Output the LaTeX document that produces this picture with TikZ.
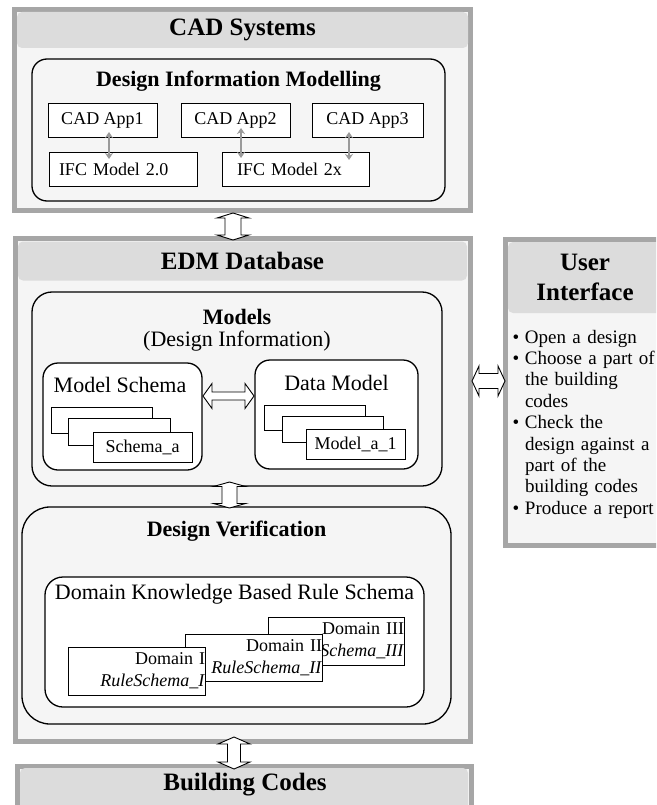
\documentclass[tikz,border=0pt]{standalone}
\usepackage{fontspec}
\setmainfont{Liberation Serif}
\usetikzlibrary{calc,arrows.meta}

\definecolor{frame}{HTML}{A6A6A6}
\definecolor{panel}{HTML}{F5F5F5}
\definecolor{band}{HTML}{DCDCDC}
\definecolor{link}{HTML}{9A9A9A}

\newcommand\fs[2]{\fontsize{#1}{#2}\selectfont}
\newcommand\bul{\makebox[12.5pt][l]{\textbullet}}
\newcommand\ind{\hspace*{12.5pt}}

\tikzset{
  every node/.style={outer sep=0pt},
  wh/.style 2 args={minimum width=#1pt, minimum height=#2pt},
  panelbox/.style={draw=frame, line width=5pt, fill=panel, inner sep=0pt},
  bandbox/.style={fill=band, rounded corners=5pt, inner sep=0pt},
  groupbox/.style={draw=black, line width=1.3pt, fill=panel, rounded corners=#1, inner sep=0pt},
  groupbox/.default=15pt,
  whitegroup/.style={groupbox=#1, fill=white},
  whitegroup/.default=15pt,
  itembox/.style={draw=black, line width=0.9pt, fill=white, inner sep=0pt, font=\fs{18}{22}},
  dombox/.style={itembox, align=right, text width=#1pt, minimum width=#1pt},
  headtext/.style={font=\bfseries\fs{25}{30}},
  subhead/.style={font=\bfseries\fs{22}{26}},
  plainlabel/.style={font=\fs{22}{26}},
  gar/.style={draw=link, line width=2.4pt, {Stealth[length=6pt,width=8pt]}-{Stealth[length=6pt,width=8pt]}},
  hollow/.style={draw=black, line width=0.9pt, fill=white},
  vblock/.style n args={3}{to path={let \p1=(\tikztostart), \p2=(\tikztotarget) in
    (\x1,\y1) -- (\x1+#1,\y1-#3) -- (\x1+#2,\y1-#3) -- (\x1+#2,\y2+#3) -- (\x1+#1,\y2+#3)
    -- (\x1,\y2) -- (\x1-#1,\y2+#3) -- (\x1-#2,\y2+#3) -- (\x1-#2,\y1-#3) -- (\x1-#1,\y1-#3) -- cycle}},
  hblock/.style n args={3}{to path={let \p1=(\tikztostart), \p2=(\tikztotarget) in
    (\x1,\y1) -- (\x1+#3,\y1+#1) -- (\x1+#3,\y1+#2) -- (\x2-#3,\y1+#2) -- (\x2-#3,\y1+#1)
    -- (\x2,\y1) -- (\x2-#3,\y1-#1) -- (\x2-#3,\y1-#2) -- (\x1+#3,\y1-#2) -- (\x1+#3,\y1-#1) -- cycle}},
}

\begin{document}
\begin{tikzpicture}[x=1pt,y=-1pt]
\useasboundingbox (0,0) rectangle (656,805);
\clip (0,0) rectangle (656,805);

% ---------- CAD Systems ----------
\node[panelbox, wh={456}{201}] (cad) at (242.5,110) {};
\node[bandbox, wh={451}{36}, headtext] (cadhead) at (242.5,30) {CAD Systems};
\node[groupbox, wh={413}{142}] (dim) at (238.5,130) {};
\node[subhead] (dimtitle) at (238.5,81) {Design Information Modelling};
\node[itembox, wh={109}{34}] (app1) at (102.5,120) {CAD App1};
\node[itembox, wh={109}{34}] (app2) at (235.5,120) {CAD App2};
\node[itembox, wh={111}{34}] (app3) at (367.5,120) {CAD App3};
\node[itembox, minimum height=34pt, text width=128pt, inner xsep=10pt, align=left] (ifc20) at (123,169) {IFC Model 2.0};
\node[itembox, minimum height=34pt, text width=117pt, inner xsep=15pt, align=left] (ifc2x) at (295.5,169) {IFC Model 2x};
\draw[gar] ($(app1.south)+(6.5,-5)$) -- ($(app1.south |- ifc20.north)+(6.5,7)$);
\draw[gar] ($(app2.south)+(5.5,-9)$) -- ($(app2.south |- ifc2x.north)+(5.5,6)$);
\draw[gar] ($(app3.south)+(-18.5,-5)$) -- ($(app3.south |- ifc2x.north)+(-18.5,8)$);

% ---------- EDM Database ----------
\node[panelbox, wh={455}{503.5}] (edm) at (242.5,489.75) {};
\node[bandbox, wh={449}{39}, headtext] (edmhead) at (242.5,261) {EDM Database};

\node[groupbox=20pt, wh={410}{194}] (models) at (237,389) {};
\node[subhead] (modelstitle) at (237,317) {Models};
\node[plainlabel] (modelssub) at (237,341) {(Design Information)};

\node[whitegroup, wh={159}{107}] (schema) at (122.5,416.5) {};
\node[plainlabel] (schematitle) at (120,385) {Model Schema};
\node[itembox, wh={101}{26}] (sa1) at (101.5,420) {};
\node[itembox, wh={102}{27}] (sa2) at (119,431.5) {};
\node[itembox, wh={99}{30}] (sa3) at (142.5,447) {Schema\_a};

\node[whitegroup, wh={163}{109}] (data) at (336.5,414.5) {};
\node[plainlabel] (datatitle) at (336.5,383) {Data Model};
\node[itembox, wh={101}{25}] (da1) at (314.5,417.5) {};
\node[itembox, wh={101}{26}] (da2) at (332.5,429) {};
\node[itembox, wh={99}{30}] (da3) at (355.5,444) {Model\_a\_1};

\draw[hollow] ($(schema.east)+(1,-20.5)$) to[hblock={12.5pt}{4pt}{9pt}] ($(data.west)+(-1,0)$);

\node[groupbox=28pt, wh={429}{217}] (dv) at (236.5,615.5) {};
\node[subhead] (dvtitle) at (236.5,531) {Design Verification};
\node[whitegroup=18pt, wh={379}{130}] (dk) at (234.5,642) {};
\node[plainlabel] (dktitle) at (234.5,594) {Domain Knowledge Based Rule Schema};

\node[dombox=136, minimum height=48pt] (d3) at (336,641) {Domain III\\\textit{RuleSchema\_III}};
\node[dombox=137, minimum height=47pt] (d2) at (253.5,657.5) {Domain II\\\textit{RuleSchema\_II}};
\node[dombox=137, minimum height=48pt] (d1) at (136.5,671) {Domain I\\\textit{RuleSchema\_I}};

\draw[hollow] ($(models.south)+(-7.5,-4)$) to[vblock={16pt}{7.5pt}{4.5pt}] ($(dv.north)+(-7.5,1)$);

% ---------- Building Codes ----------
\node[panelbox, wh={453.5}{46}] (bc) at (244.25,789) {};
\node[bandbox, wh={448}{44}] (bchead) at (244,790) {};
\node[headtext] (bctitle) at (245,785) {Building Codes};

% ---------- User Interface ----------
\node[panelbox, wh={158.5}{306}] (ui) at (584.75,392.5) {};
\node[bandbox, wh={154}{71}, headtext, align=center] (uihead) at (585,277.5) {User\\Interface};
\node[anchor=north west, inner sep=0pt, text width=150pt, align=left, font=\fs{19}{21.4}] (uilist) at (512.5,330)
  {\bul Open a design\\
   \bul Choose a part of\\
   \ind the building\\
   \ind codes\\
   \bul Check the\\
   \ind design against a\\
   \ind part of the\\
   \ind building codes\\
   \bul Produce a report};

% ---------- links between panels ----------
\draw[hollow] ($(cad.south)+(-9.5,2.5)$) to[vblock={16pt}{8pt}{5pt}] ($(edm.north)+(-9.5,2)$);
\draw[hollow] ($(edm.south)+(-8.5,-4.5)$) to[vblock={16pt}{6.5pt}{7pt}] ($(bc.north)+(-8.5,3)$);
\draw[hollow] ($(edm.east)+(2,-108.75)$) to[hblock={15pt}{7.5pt}{7pt}] ($(ui.west)+(-0.5,0)$);
\end{tikzpicture}
\end{document}
